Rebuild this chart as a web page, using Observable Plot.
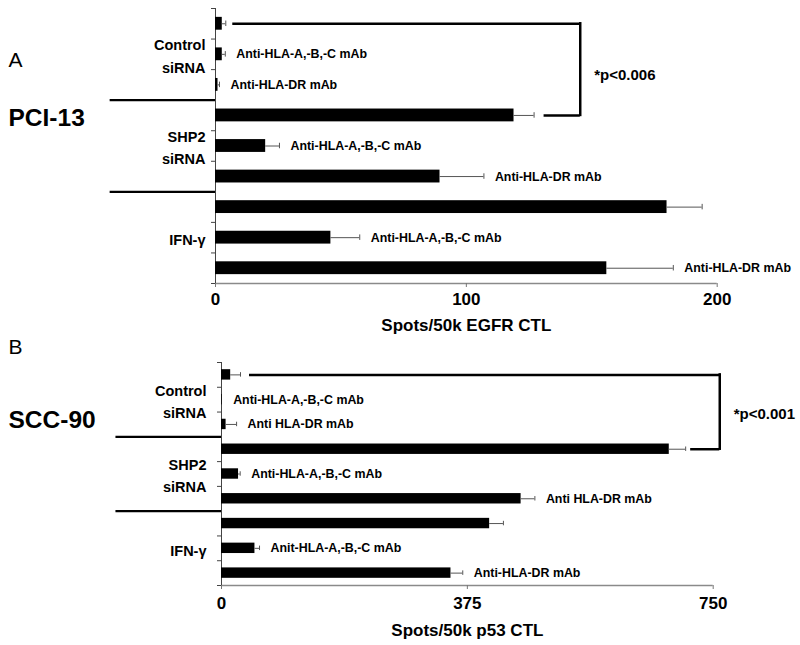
<!DOCTYPE html>
<html><head><meta charset="utf-8">
<script src="https://cdn.jsdelivr.net/npm/d3@7"></script>
<script src="https://cdn.jsdelivr.net/npm/@observablehq/plot@0.6"></script>
<style>
body{margin:0;background:#fff;}
#wrap{width:800px;height:645px;position:relative;font-family:"Liberation Sans",Arial,sans-serif;}
#wrap svg{display:block;}
g[aria-label="x-axis tick label"] text{font-size:17px;font-weight:bold;}
</style></head><body><div id="wrap"></div>
<script>
// ---- Panel A data (PCI-13, EGFR CTL) ----
const groupNamesA = ["Control\nsiRNA", "SHP2\nsiRNA", "IFN-γ"];
const treatmentLabelsA = ["", "Anti-HLA-A,-B,-C mAb", "Anti-HLA-DR mAb", "", "Anti-HLA-A,-B,-C mAb", "Anti-HLA-DR mAb", "", "Anti-HLA-A,-B,-C mAb", "Anti-HLA-DR mAb"];
const spotsA = [2.7, 2.7, 1.0, 119, 20, 89.5, 180, 46, 156];
const errorsA = [1.4, 1.2, 0.6, 8, 5.5, 17.5, 14, 11.5, 26.5];
const xTicksA = [0, 100, 200];
const xDomainA = [0, 200];
const pLabelA = "*p<0.006";
const xTitleA = "Spots/50k EGFR CTL";
const cellLineA = "PCI-13";
const letterA = "A";

// ---- Panel B data (SCC-90, p53 CTL) ----
const groupNamesB = ["Control\nsiRNA", "SHP2\nsiRNA", "IFN-γ"];
const treatmentLabelsB = ["", "Anti-HLA-A,-B,-C mAb", "Anti HLA-DR mAb", "", "Anti-HLA-A,-B,-C mAb", "Anti HLA-DR mAb", "", "Anit-HLA-A,-B,-C mAb", "Anti-HLA-DR mAb"];
const spotsB = [14, 1, 7, 683, 26, 457, 409, 51, 350];
const errorsB = [15, 0, 16, 25, 2.5, 21, 21, 7, 18];
const xTicksB = [0, 375, 750];
const xDomainB = [0, 750];
const pLabelB = "*p<0.001";
const xTitleB = "Spots/50k p53 CTL";
const cellLineB = "SCC-90";
const letterB = "B";

const FONT = '"Liberation Sans", Arial, sans-serif';

function panel(c) {
  const rows = c.spots.map((v, i) => ({row: i, value: v, err: c.errors[i], label: c.labels[i]}));
  const groups = c.groups.map((g, i) => ({name: g, row: i * 3 + 1.5}));
  const withErr = rows.filter(d => d.err > 0);
  const half = 0.21, cap = 0.09;
  const [g0, g1] = [rows[0], rows[3]];
  return Plot.plot({
    width: 800, height: c.height,
    marginTop: c.mt, marginBottom: c.mb, marginLeft: c.ml, marginRight: c.mr,
    style: {fontFamily: FONT, color: "black", background: "white", overflow: "visible"},
    x: {domain: c.xDomain},
    y: {domain: [0, 9], reverse: true},
    marks: [
      Plot.ruleY([9], {stroke: "#8a8a8a", strokeWidth: 1.6}),
      Plot.axisX({ticks: c.xTicks, tickSize: 4, tickPadding: c.tickPad, stroke: "#777", fontSize: 17, fontWeight: "bold", label: null}),
      Plot.axisY({ticks: d3.range(0, 10), tickSize: 4, tickFormat: () => "", stroke: "#444", label: null}),
      Plot.ruleX([0], {stroke: "#444"}),
      Plot.rectX(rows, {x1: 0, x2: "value", y1: d => d.row + 0.5 - half, y2: d => d.row + 0.5 + half, fill: "black"}),
      Plot.ruleY(withErr, {y: d => d.row + 0.5, x1: "value", x2: d => d.value + d.err, stroke: "#555"}),
      Plot.ruleX(withErr, {x: d => d.value + d.err, y1: d => d.row + 0.5 - cap, y2: d => d.row + 0.5 + cap, stroke: "#555"}),
      Plot.text(rows.filter(d => d.label), {x: d => d.value + d.err, y: d => d.row + 0.5, text: "label", dx: 11, textAnchor: "start", fontSize: 12.4, fontWeight: "bold"}),
      Plot.ruleY([3, 6], {x1: c.sepStart, x2: 0, strokeWidth: 2.2, stroke: "black"}),
      Plot.text(groups, {x: 0, y: "row", text: "name", dx: c.groupDx, dy: c.groupDy, textAnchor: "end", fontSize: 14.5, fontWeight: "bold", lineHeight: 1.55}),
      // significance bracket
      Plot.ruleY([g0], {y: d => d.row + 0.5, x1: d => d.value + d.err, x2: c.bracketX, insetLeft: c.topGap, strokeWidth: 2.5, stroke: "black"}),
      Plot.ruleY([g1], {y: d => d.row + 0.5, x1: d => d.value + d.err, x2: c.bracketX, insetLeft: c.botGap, strokeWidth: 2.5, stroke: "black"}),
      Plot.ruleX([c.bracketX], {y1: g0.row + 0.5, y2: g1.row + 0.5, strokeWidth: 2.5, stroke: "black", strokeLinecap: "square"}),
      Plot.text([c.pLabel], {x: c.bracketX, y: (g0.row + g1.row + 1) / 2, dx: 14, dy: c.pDy, textAnchor: "start", fontSize: 15, fontWeight: "bold"}),
      Plot.text([c.xTitle], {frameAnchor: "bottom", lineAnchor: "middle", dy: c.titleDy, fontSize: 17, fontWeight: "bold"}),
      Plot.text([c.letter], {frameAnchor: "top-left", lineAnchor: "middle", dx: 8 - c.ml, dy: c.letterY - c.mt, textAnchor: "start", fontSize: 21}),
      Plot.text([c.cellLine], {frameAnchor: "top-left", lineAnchor: "middle", dx: 8 - c.ml, dy: c.cellY - c.mt, textAnchor: "start", fontSize: 24.5, fontWeight: "bold"})
    ]
  });
}

const wrap = document.getElementById("wrap");
wrap.appendChild(panel({
  spots: spotsA, errors: errorsA, labels: treatmentLabelsA, groups: groupNamesA,
  xTicks: xTicksA, xDomain: xDomainA, pLabel: pLabelA, xTitle: xTitleA, cellLine: cellLineA, letter: letterA,
  height: 336, mt: 8, mb: 53, ml: 215, mr: 83.3, tickPad: 5,
  sepStart: -42, groupDx: -10, groupDy: 0, bracketX: 145.4, topGap: 7, botGap: 10, pDy: 6,
  titleDy: 42, letterY: 60, cellY: 118
}));
wrap.appendChild(panel({
  spots: spotsB, errors: errorsB, labels: treatmentLabelsB, groups: groupNamesB,
  xTicks: xTicksB, xDomain: xDomainB, pLabel: pLabelB, xTitle: xTitleB, cellLine: cellLineB, letter: letterB,
  height: 309, mt: 26, mb: 60, ml: 221, mr: 87.3, tickPad: 7,
  sepStart: -161, groupDx: -15, groupDy: 0, bracketX: 760, topGap: 9, botGap: 5, pDy: 2,
  titleDy: 45, letterY: 11, cellY: 84
}));
</script></body></html>
